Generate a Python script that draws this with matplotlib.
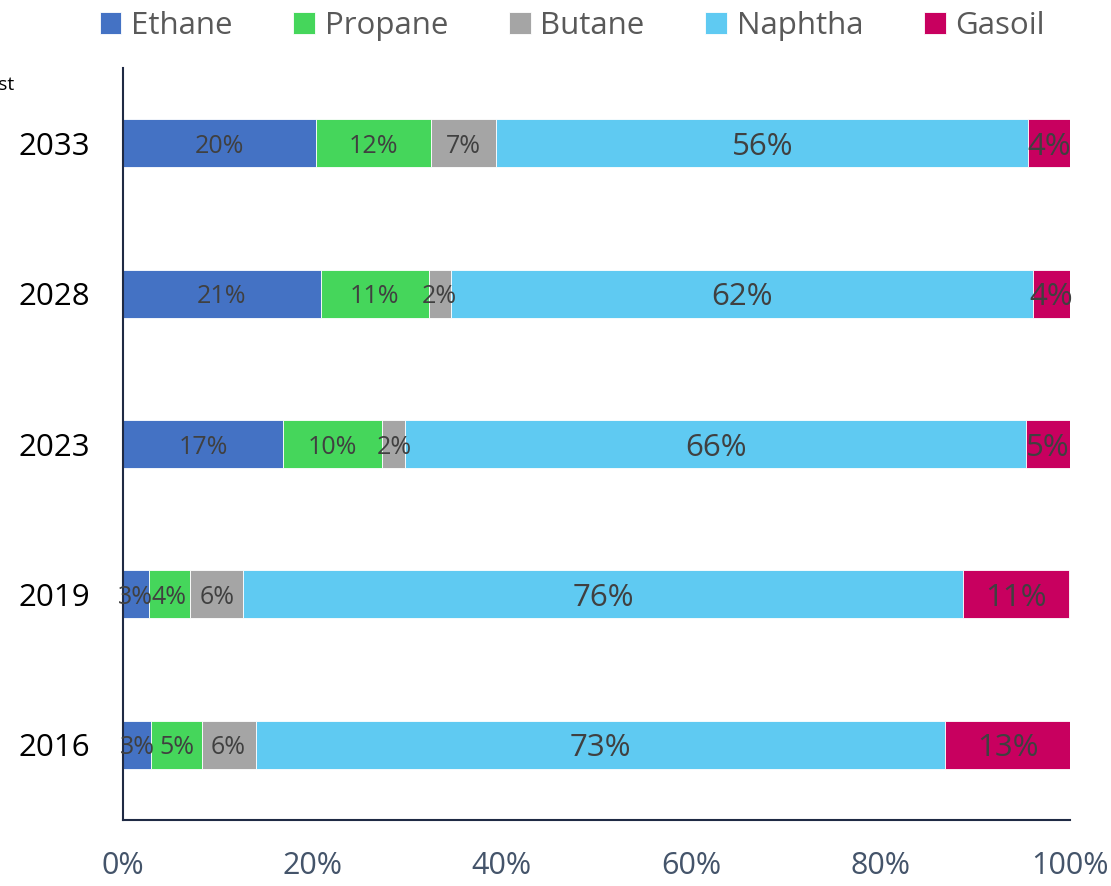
import numpy as np
import matplotlib.pyplot as plt

plt.rcParams['font.family'] = ['Open Sans', 'DejaVu Sans']

# data (share of feedstock, %)
years = ['2016', '2019', '2023', '2028', '2033']
ethane = [3.0, 2.7, 16.9, 20.9, 20.4]
propane = [5.3, 4.4, 10.5, 11.4, 12.1]
butane = [5.7, 5.6, 2.4, 2.3, 6.9]
naphtha = [72.8, 76.0, 65.6, 61.5, 56.2]
gasoil = [13.3, 11.2, 4.6, 3.9, 4.4]
labels = {
    'Ethane': ['3%', '3%', '17%', '21%', '20%'],
    'Propane': ['5%', '4%', '10%', '11%', '12%'],
    'Butane': ['6%', '6%', '2%', '2%', '7%'],
    'Naphtha': ['73%', '76%', '66%', '62%', '56%'],
    'Gasoil': ['13%', '11%', '5%', '4%', '4%'],
}

series = [('Ethane', ethane, '#4472C4'),
          ('Propane', propane, '#45D65B'),
          ('Butane', butane, '#A5A5A5'),
          ('Naphtha', naphtha, '#5FCAF2'),
          ('Gasoil', gasoil, '#C8005F')]

fig = plt.figure(figsize=(11.11, 8.86), dpi=100)
ax = fig.add_axes([123 / 1111, 1 - 820 / 886, (1070 - 123) / 1111, (820 - 68) / 886])

y = np.arange(len(years))
left = np.zeros(len(years))
for name, vals, col in series:
    vals = np.array(vals) / 100
    bars = ax.barh(y, vals, left=left, height=0.32, color=col, label=name,
                   edgecolor='white', linewidth=0.6)
    fs = 22.5 if name in ('Naphtha', 'Gasoil') else 18
    for i, b in enumerate(bars):
        ax.text(left[i] + vals[i] / 2, y[i], labels[name][i], ha='center',
                va='center_baseline', fontsize=fs, color='#404040')
    left += vals

ax.set_xlim(0, 1)
ax.set_ylim(-0.5, 4.5)
ax.set_yticks(y)
ax.set_yticklabels(years, fontsize=22.5, color='black')
ax.set_xticks(np.linspace(0, 1, 6))
ax.set_xticklabels(['0%', '20%', '40%', '60%', '80%', '100%'], fontsize=22, color='#44546A')
ax.tick_params(axis='both', length=0)
ax.tick_params(axis='x', pad=22)
ax.tick_params(axis='y', pad=24)
for s in ['top', 'right']:
    ax.spines[s].set_visible(False)
for s in ['left', 'bottom']:
    ax.spines[s].set_color('#1F2A44')
    ax.spines[s].set_linewidth(1.5)

fig.text(14 / 1111, 1 - 85 / 886, 'Forecast', ha='right', va='center', fontsize=14, color='black')

fig.legend(loc='center', bbox_to_anchor=(0.515, 1 - 26 / 886), ncol=5, frameon=False,
           fontsize=22.5, handlelength=0.7, handleheight=0.7, handletextpad=0.3,
           columnspacing=1.95, labelcolor='#595959')

fig.savefig('out.png', dpi=100)
